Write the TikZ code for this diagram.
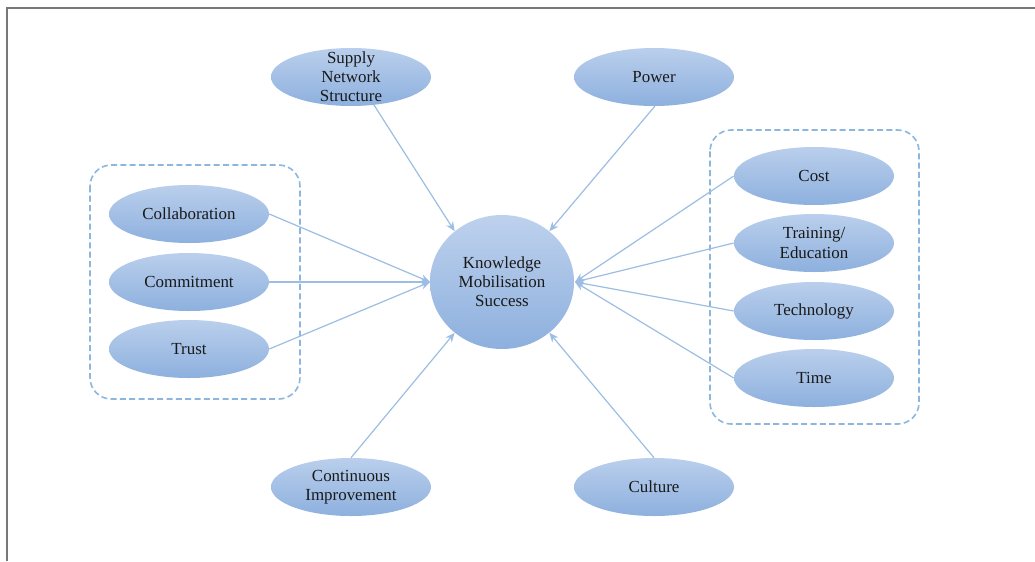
\documentclass[tikz,border=0pt]{standalone}
\usepackage{fontspec}
\setmainfont{Liberation Serif}
\usetikzlibrary{shapes.geometric,arrows.meta}
\definecolor{topblue}{RGB}{186,207,236}
\definecolor{botblue}{RGB}{141,176,222}
\definecolor{arrblue}{RGB}{157,190,228}
\definecolor{boxblue}{RGB}{140,182,222}
\definecolor{txt}{RGB}{25,25,25}
\definecolor{frame}{RGB}{120,120,120}
\tikzset{
  blob/.style={ellipse, inner sep=0pt, minimum width=120pt, minimum height=43.5pt,
    top color=topblue, bottom color=botblue, draw=none},
  hub/.style={ellipse, inner sep=0pt, minimum width=108pt, minimum height=100.5pt,
    top color=topblue!95!white, bottom color=botblue, draw=none},
  lbl/.style={align=center, text=txt, font=\fontsize{12.7}{14.3}\selectfont, inner sep=0pt},
  arr/.style={draw=arrblue, line width=0.9pt, -{Stealth[length=7pt,width=6pt]}},
  group/.style={draw=boxblue, line width=1.2pt, dash pattern=on 4.5pt off 2.5pt, rounded corners=16pt}
}
\begin{document}
\begin{tikzpicture}[x=0.75pt,y=-0.75pt]
\useasboundingbox (0,0) rectangle (1035,561);
\fill[white] (0,0) rectangle (1035,561);
\draw[frame, line width=1.3pt] (7,561) -- (7,8) -- (1035,8);

% groups
\draw[group] (90,165) rectangle (300,399);
\draw[group] (710,130) rectangle (919,424);

% hub
\node[hub] (kms) at (502,282) {};
\node[lbl] (kmst) at (kms) {Knowledge\\Mobilisation\\Success};

% outer nodes
\node[blob] (sns) at (351,77) {};
\node[lbl] (snst) at (sns) {Supply\\Network\\Structure};
\node[blob] (pow) at (654,77) {};
\node[lbl] (powt) at (pow) {Power};
\node[blob] (col) at (189,214) {};
\node[lbl] (colt) at (col) {Collaboration};
\node[blob] (com) at (189,282) {};
\node[lbl] (comt) at (com) {Commitment};
\node[blob] (tru) at (189,349) {};
\node[lbl] (trut) at (tru) {Trust};
\node[blob] (cost) at (814,176) {};
\node[lbl] (costt) at (cost) {Cost};
\node[blob] (tre) at (814,243) {};
\node[lbl] (tret) at (tre) {Training/\\Education};
\node[blob] (tech) at (814,311) {};
\node[lbl] (techt) at (tech) {Technology};
\node[blob] (time) at (814,378) {};
\node[lbl] (timet) at (time) {Time};
\node[blob] (ci) at (351,487) {};
\node[lbl] (cit) at (ci) {Continuous\\Improvement};
\node[blob] (cul) at (654,487) {};
\node[lbl] (cult) at (cul) {Culture};

% connector anchors
\coordinate (snsout) at (374,105);
\coordinate (powout) at (655,106);
\coordinate (lin) at (430,282);
\coordinate (rin) at (575,282);

\draw[arr] (snsout) -- (kms.133);
\draw[arr] (powout) -- (kms.47);
\draw[arr] (col.east) -- (lin);
\draw[arr] (com.east) -- (lin);
\draw[arr] (tru.east) -- (lin);
\draw[arr] (cost.west) -- (rin);
\draw[arr] (tre.west) -- (rin);
\draw[arr] (tech.west) -- (rin);
\draw[arr] (time.west) -- (rin);
\draw[arr] (ci.north) -- (kms.227);
\draw[arr] (cul.north) -- (kms.313);
\end{tikzpicture}
\end{document}
